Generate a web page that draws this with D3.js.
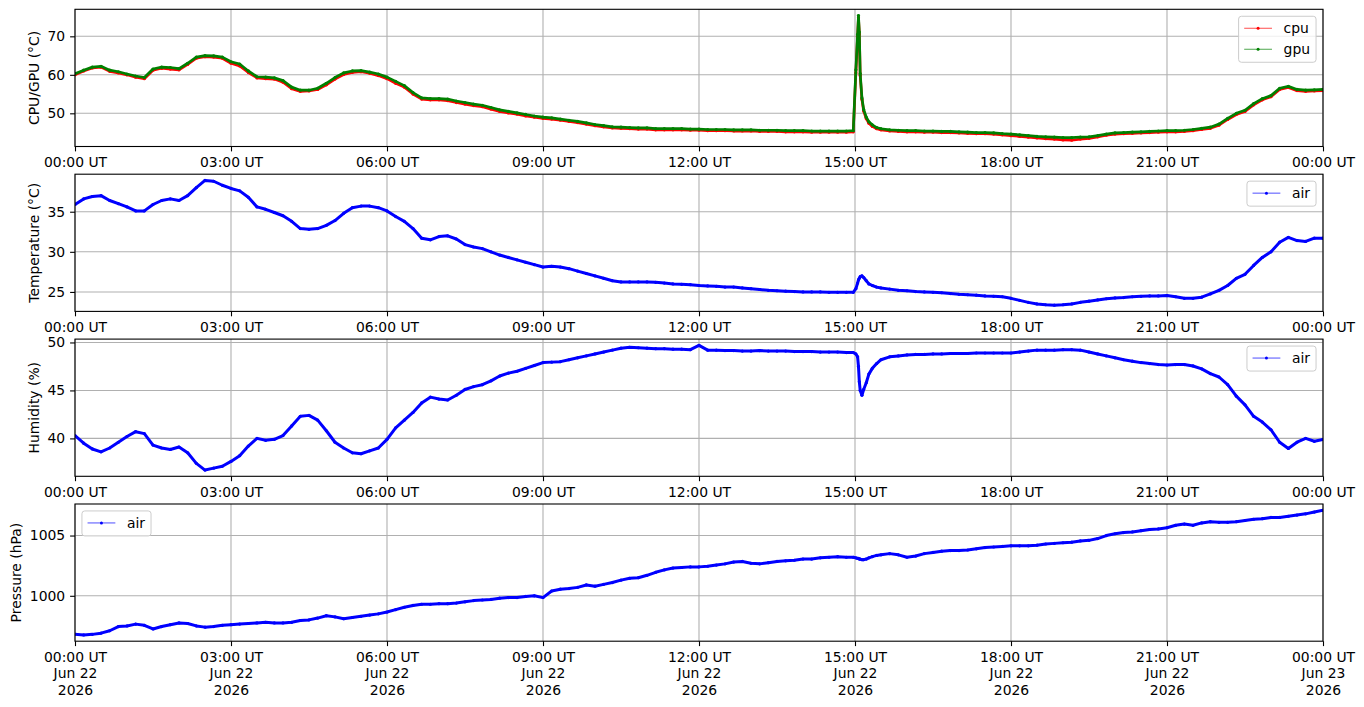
<!DOCTYPE html>
<html>
<head>
<meta charset="utf-8">
<script src="https://cdn.jsdelivr.net/npm/d3@7"></script>
<style>
  body { margin: 0; background: #fff; }
  svg { display: block; font-family: "DejaVu Sans", sans-serif; }
</style>
</head>
<body>
<svg id="chart" width="1364" height="707"></svg>
<script>
// sample times, minutes after 00:00 UT on 2026-06-22 (denser around the 15:00 event)
var minutes = [
  0, 10, 20, 30, 40, 50, 60, 70, 80, 90,
  100, 110, 120, 130, 140, 150, 160, 170, 180, 190,
  200, 210, 220, 230, 240, 250, 260, 270, 280, 290,
  300, 310, 320, 330, 340, 350, 360, 370, 380, 390,
  400, 410, 420, 430, 440, 450, 460, 470, 480, 490,
  500, 510, 520, 530, 540, 550, 560, 570, 580, 590,
  600, 610, 620, 630, 640, 650, 660, 670, 680, 690,
  700, 710, 720, 730, 740, 750, 760, 770, 780, 790,
  800, 810, 820, 830, 840, 850, 860, 870, 880, 890,
  898, 901, 903, 904, 905, 906, 908, 910, 913, 916, 920, 925,
  930, 940, 950, 960, 970, 980, 990, 1000, 1010, 1020,
  1030, 1040, 1050, 1060, 1070, 1080, 1090, 1100, 1110, 1120,
  1130, 1140, 1150, 1160, 1170, 1180, 1190, 1200, 1210, 1220,
  1230, 1240, 1250, 1260, 1270, 1280, 1290, 1300, 1310, 1320,
  1330, 1340, 1350, 1360, 1370, 1380, 1390, 1400, 1410, 1420,
  1430, 1440
];

var cpu = [
  60.0, 61.0, 61.8, 62.0, 60.9, 60.5, 60.0, 59.4, 59.0, 61.2,
  61.7, 61.5, 61.3, 62.7, 64.3, 64.7, 64.6, 64.3, 63.0, 62.3,
  60.6, 59.2, 59.0, 58.9, 58.1, 56.4, 55.7, 55.8, 56.2, 57.4,
  58.9, 60.1, 60.6, 60.8, 60.4, 59.8, 59.0, 57.8, 56.8, 55.0,
  53.7, 53.5, 53.5, 53.3, 52.8, 52.4, 52.0, 51.7, 51.1, 50.5,
  50.1, 49.8, 49.3, 49.0, 48.7, 48.5, 48.2, 47.9, 47.6, 47.2,
  46.8, 46.5, 46.2, 46.1, 46.0, 45.9, 45.9, 45.7, 45.7, 45.7,
  45.7, 45.6, 45.6, 45.5, 45.5, 45.5, 45.4, 45.4, 45.4, 45.3,
  45.3, 45.3, 45.2, 45.2, 45.2, 45.1, 45.1, 45.1, 45.1, 45.1,
  45.2, 60.5, 70.0, 74.8, 70.6, 59.8, 53.6, 50.6, 48.6, 47.4, 46.6, 46.0,
  45.7, 45.4, 45.3, 45.2, 45.2, 45.1, 45.1, 45.0, 45.0, 44.9,
  44.8, 44.7, 44.7, 44.6, 44.4, 44.2, 44.0, 43.8, 43.6, 43.4,
  43.3, 43.1, 43.0, 43.3, 43.5, 43.9, 44.3, 44.6, 44.7, 44.8,
  44.9, 45.0, 45.1, 45.2, 45.2, 45.3, 45.5, 45.8, 46.1, 46.9,
  48.4, 49.7, 50.5, 52.2, 53.5, 54.3, 56.2, 56.7, 55.9, 55.7,
  55.8, 55.9
];

var gpu = [
  60.3, 61.2, 62.0, 62.2, 61.2, 60.8, 60.2, 59.7, 59.3, 61.5,
  62.0, 61.9, 61.6, 63.0, 64.6, 65.0, 64.9, 64.6, 63.4, 62.8,
  61.0, 59.5, 59.4, 59.2, 58.5, 56.8, 56.0, 56.0, 56.5, 57.8,
  59.3, 60.5, 61.0, 61.1, 60.7, 60.2, 59.4, 58.3, 57.2, 55.4,
  54.0, 53.8, 53.8, 53.7, 53.2, 52.8, 52.4, 52.1, 51.5, 50.9,
  50.5, 50.1, 49.7, 49.3, 49.0, 48.8, 48.5, 48.2, 47.9, 47.5,
  47.1, 46.8, 46.5, 46.4, 46.3, 46.2, 46.2, 46.0, 46.0, 46.0,
  46.0, 45.9, 45.9, 45.8, 45.8, 45.8, 45.7, 45.7, 45.7, 45.6,
  45.6, 45.6, 45.5, 45.5, 45.5, 45.4, 45.4, 45.4, 45.4, 45.4,
  45.5, 61.3, 70.5, 75.4, 71.1, 60.3, 54.0, 51.0, 49.0, 47.8, 47.0, 46.3,
  46.0, 45.7, 45.6, 45.5, 45.5, 45.4, 45.4, 45.3, 45.3, 45.2,
  45.1, 45.0, 45.0, 44.9, 44.7, 44.6, 44.4, 44.2, 44.0, 43.9,
  43.8, 43.7, 43.7, 43.8, 43.9, 44.2, 44.6, 44.9, 45.0, 45.1,
  45.2, 45.3, 45.4, 45.5, 45.5, 45.6, 45.8, 46.1, 46.4, 47.2,
  48.7, 50.0, 50.8, 52.5, 53.8, 54.6, 56.5, 57.0, 56.2, 56.0,
  56.1, 56.2
];

var airTemp = [
  35.9, 36.6, 36.9, 37.0, 36.4, 36.0, 35.6, 35.1, 35.1, 35.9,
  36.4, 36.6, 36.4, 37.0, 38.0, 38.9, 38.8, 38.3, 37.9, 37.6,
  36.8, 35.6, 35.3, 34.9, 34.5, 33.8, 32.9, 32.8, 32.9, 33.3,
  33.9, 34.8, 35.5, 35.7, 35.7, 35.5, 35.1, 34.4, 33.8, 32.9,
  31.7, 31.5, 31.9, 32.0, 31.6, 30.9, 30.6, 30.4, 30.0, 29.6,
  29.3, 29.0, 28.7, 28.4, 28.1, 28.2, 28.1, 27.9, 27.6, 27.3,
  27.0, 26.7, 26.4, 26.25, 26.25, 26.25, 26.25, 26.2, 26.1, 26.0,
  25.95, 25.9, 25.8, 25.75, 25.7, 25.6, 25.6, 25.5, 25.4, 25.3,
  25.2, 25.15, 25.1, 25.05, 25.0, 25.0, 25.0, 24.95, 24.95, 24.95,
  24.95, 25.4, 26.1, 26.5, 26.7, 26.9, 27.0, 26.8, 26.4, 26.0, 25.8, 25.6,
  25.5, 25.35, 25.2, 25.15, 25.05, 25.0, 24.95, 24.9, 24.8, 24.7,
  24.65, 24.6, 24.5, 24.45, 24.4, 24.2, 23.95, 23.7, 23.5, 23.4,
  23.35, 23.4, 23.5, 23.7, 23.85, 24.0, 24.15, 24.25, 24.3, 24.4,
  24.45, 24.5, 24.5, 24.55, 24.4, 24.2, 24.2, 24.35, 24.75, 25.2,
  25.8, 26.7, 27.2, 28.3, 29.3, 30.0, 31.2, 31.8, 31.4, 31.3,
  31.7, 31.7
];

var airHumidity = [
  40.3, 39.5, 38.9, 38.6, 39.0, 39.6, 40.2, 40.7, 40.5, 39.3,
  39.0, 38.85, 39.1, 38.5, 37.4, 36.7, 36.9, 37.1, 37.6, 38.2,
  39.2, 40.0, 39.8, 39.9, 40.3, 41.3, 42.3, 42.4, 41.9, 40.8,
  39.6, 39.0, 38.5, 38.4, 38.7, 39.0, 39.9, 41.1, 41.9, 42.7,
  43.7, 44.3, 44.1, 44.0, 44.5, 45.1, 45.4, 45.6, 46.0, 46.5,
  46.8, 47.0, 47.3, 47.6, 47.9, 47.95, 48.0, 48.2, 48.4, 48.6,
  48.8, 49.0, 49.2, 49.4, 49.5, 49.45, 49.4, 49.35, 49.35, 49.3,
  49.3, 49.25, 49.7, 49.2, 49.2, 49.15, 49.15, 49.1, 49.1, 49.15,
  49.1, 49.1, 49.1, 49.05, 49.05, 49.05, 49.0, 49.0, 49.0, 48.95,
  48.95, 48.8, 48.5, 47.5, 45.9, 45.0, 44.5, 45.1, 45.8, 46.7, 47.3, 47.8,
  48.2, 48.5, 48.6, 48.7, 48.75, 48.75, 48.8, 48.8, 48.85, 48.85,
  48.85, 48.9, 48.9, 48.9, 48.9, 48.9, 49.0, 49.1, 49.2, 49.2,
  49.2, 49.25, 49.25, 49.2, 49.0, 48.8, 48.6, 48.4, 48.2, 48.05,
  47.9, 47.8, 47.7, 47.65, 47.7, 47.7, 47.55, 47.25, 46.75, 46.4,
  45.6, 44.4, 43.5, 42.3, 41.7, 40.9, 39.6, 38.95, 39.6, 40.0,
  39.7, 39.9
];

var airPressure = [
  996.8, 996.75, 996.8, 996.9, 997.1, 997.45, 997.5, 997.65, 997.55, 997.25,
  997.45, 997.6, 997.75, 997.7, 997.5, 997.4, 997.45, 997.55, 997.6, 997.65,
  997.7, 997.75, 997.8, 997.75, 997.75, 997.8, 997.95, 998.0, 998.15, 998.35,
  998.25, 998.1, 998.2, 998.3, 998.4, 998.5, 998.65, 998.85, 999.05, 999.2,
  999.3, 999.3, 999.35, 999.35, 999.4, 999.5, 999.6, 999.65, 999.7, 999.8,
  999.85, 999.85, 999.95, 1000.0, 999.85, 1000.4, 1000.55, 1000.6, 1000.7, 1000.9,
  1000.8, 1000.95, 1001.1, 1001.3, 1001.45, 1001.5, 1001.7, 1001.95, 1002.15, 1002.3,
  1002.35, 1002.4, 1002.4, 1002.45, 1002.55, 1002.65, 1002.8, 1002.85, 1002.7, 1002.65,
  1002.75, 1002.85, 1002.9, 1002.95, 1003.05, 1003.05, 1003.15, 1003.2, 1003.25, 1003.2,
  1003.2, 1003.15, 1003.1, 1003.1, 1003.05, 1003.05, 1003.0, 1003.0, 1003.05, 1003.15, 1003.25, 1003.35,
  1003.4, 1003.5, 1003.4, 1003.2, 1003.3, 1003.5, 1003.6, 1003.7, 1003.75, 1003.75,
  1003.8, 1003.9, 1004.0, 1004.05, 1004.1, 1004.15, 1004.15, 1004.15, 1004.2, 1004.3,
  1004.35, 1004.4, 1004.45, 1004.55, 1004.6, 1004.75, 1005.0, 1005.15, 1005.25, 1005.3,
  1005.4, 1005.5, 1005.55, 1005.65, 1005.85, 1005.95, 1005.85, 1006.05, 1006.15, 1006.1,
  1006.1, 1006.15, 1006.25, 1006.35, 1006.4, 1006.5, 1006.5, 1006.6, 1006.7, 1006.8,
  1006.95, 1007.1
];

var cpuTicks = [50, 60, 70];
var tempTicks = [25, 30, 35];
var humidityTicks = [40, 45, 50];
var pressureTicks = [1000, 1005];

var X0 = 75, X1 = 1323;
var panelTop = [9.3, 174.2, 339.1, 504.0];
var panelH = 137.2;
var FONT = 13.9;
var GRID = "#b0b0b0";

var svg = d3.select("#chart");

var day0 = Date.UTC(2026, 5, 22);
function toDate(m) { return new Date(day0 + m * 60000); }
var dates = minutes.map(toDate);

var x = d3.scaleUtc().domain([toDate(0), toDate(1440)]).range([X0, X1]);
var xTicks = d3.utcHour.every(3).range(toDate(0), toDate(1441));
var fmtTime = d3.utcFormat("%H:%M UT");
var fmtDay = d3.utcFormat("%b %d");
var fmtYear = d3.utcFormat("%Y");

var panels = [
  {ylabel: "CPU/GPU (\u00B0C)", ticks: cpuTicks, legend: "right", width: 2.7,
   series: [{name: "cpu", values: cpu, color: "#ff0000"}, {name: "gpu", values: gpu, color: "#008000"}]},
  {ylabel: "Temperature (\u00B0C)", ticks: tempTicks, legend: "right", width: 3,
   series: [{name: "air", values: airTemp, color: "#0000ff"}]},
  {ylabel: "Humidity (%)", ticks: humidityTicks, legend: "right", width: 3,
   series: [{name: "air", values: airHumidity, color: "#0000ff"}]},
  {ylabel: "Pressure (hPa)", ticks: pressureTicks, legend: "left", dates: true, width: 3,
   series: [{name: "air", values: airPressure, color: "#0000ff"}]}
];

panels.forEach(function (p, i) {
  var top = panelTop[i], bottom = top + panelH;
  var all = [];
  p.series.forEach(function (s) { all = all.concat(s.values); });
  var ext = d3.extent(all);
  var pad = (ext[1] - ext[0]) * 0.05;
  var y = d3.scaleLinear().domain([ext[0] - pad, ext[1] + pad]).range([bottom, top]);

  var g = svg.append("g");

  //grid
  g.append("g").selectAll("line").data(xTicks).join("line")
    .attr("x1", function (d) { return x(d); })
    .attr("x2", function (d) { return x(d); })
    .attr("y1", top).attr("y2", bottom)
    .attr("stroke", GRID).attr("stroke-width", 1.1);
  g.append("g").selectAll("line").data(p.ticks).join("line")
    .attr("x1", X0).attr("x2", X1)
    .attr("y1", function (d) { return y(d); })
    .attr("y2", function (d) { return y(d); })
    .attr("stroke", GRID).attr("stroke-width", 1.1);

  //data
  var clipId = "clip" + i;
  svg.append("clipPath").attr("id", clipId).append("rect")
    .attr("x", X0).attr("y", top).attr("width", X1 - X0).attr("height", panelH);
  var plot = g.append("g").attr("clip-path", "url(#" + clipId + ")");
  var line = d3.line()
    .x(function (d, j) { return x(dates[j]); })
    .y(function (d) { return y(d); });
  p.series.forEach(function (s) {
    plot.append("path").datum(s.values)
      .attr("d", line)
      .attr("fill", "none")
      .attr("stroke", s.color)
      .attr("stroke-width", p.width)
      .attr("stroke-linejoin", "round");
    plot.append("g").selectAll("circle").data(s.values).join("circle")
      .attr("cx", function (d, j) { return x(dates[j]); })
      .attr("cy", function (d) { return y(d); })
      .attr("r", 1.6)
      .attr("fill", s.color);
  });

  //spines
  g.append("rect")
    .attr("x", X0).attr("y", top).attr("width", X1 - X0).attr("height", panelH)
    .attr("fill", "none").attr("stroke", "#000").attr("stroke-width", 1.1);

  //x axis
  var xAxis = d3.axisBottom(x).tickValues(xTicks)
    .tickSize(4.9).tickPadding(6).tickSizeOuter(0)
    .tickFormat(fmtTime);
  var xg = g.append("g").attr("transform", "translate(0," + bottom + ")").call(xAxis);
  xg.attr("font-size", FONT).attr("font-family", "DejaVu Sans");
  xg.select(".domain").remove();
  xg.selectAll(".tick line").attr("stroke", "#000").attr("stroke-width", 1.1);
  xg.selectAll(".tick text").attr("fill", "#000");
  if (p.dates) {
    xg.selectAll(".tick text").each(function (d) {
      var t = d3.select(this);
      var rows = [fmtTime(d), fmtDay(d), fmtYear(d)];
      t.text(null).attr("dy", null);
      rows.forEach(function (r, k) {
        t.append("tspan").attr("x", 0)
          .attr("dy", k === 0 ? "0.71em" : "1.18em")
          .text(r);
      });
    });
  }

  //y axis
  var yAxis = d3.axisLeft(y).tickValues(p.ticks)
    .tickSize(4.9).tickPadding(4.9).tickSizeOuter(0)
    .tickFormat(d3.format("d"));
  var yg = g.append("g").attr("transform", "translate(" + X0 + ",0)").call(yAxis);
  yg.attr("font-size", FONT).attr("font-family", "DejaVu Sans");
  yg.select(".domain").remove();
  yg.selectAll(".tick line").attr("stroke", "#000").attr("stroke-width", 1.1);
  yg.selectAll(".tick text").attr("fill", "#000");
  var bb = yg.node().getBBox();
  var labelX = X0 + bb.x - 5.6 - 3.3;
  g.append("text")
    .attr("transform", "translate(" + labelX + "," + (top + panelH / 2) + ") rotate(-90)")
    .attr("text-anchor", "middle")
    .attr("font-size", FONT)
    .attr("fill", "#000")
    .text(p.ylabel);

  //legend
  var lg = g.append("g");
  var box = lg.append("rect");
  var maxW = 0;
  p.series.forEach(function (s, k) {
    var cy = 12 + 21 * k;
    lg.append("line")
      .attr("x1", 5.6).attr("x2", 33.4).attr("y1", cy).attr("y2", cy)
      .attr("stroke", s.color).attr("stroke-width", 0.7);
    lg.append("circle").attr("cx", 19.5).attr("cy", cy).attr("r", 1.5).attr("fill", s.color);
    var t = lg.append("text")
      .attr("x", 45).attr("y", cy).attr("dy", "0.35em")
      .attr("font-size", FONT).attr("fill", "#000")
      .text(s.name);
    maxW = Math.max(maxW, t.node().getComputedTextLength());
  });
  var boxW = 45 + maxW + 6;
  var boxH = 21 * p.series.length + 4;
  box.attr("width", boxW).attr("height", boxH).attr("rx", 2.8)
    .attr("fill", "#fff").attr("fill-opacity", 0.8)
    .attr("stroke", "#cccccc").attr("stroke-width", 1);
  var lx = p.legend === "right" ? X1 - 6.95 - boxW : X0 + 6.95;
  lg.attr("transform", "translate(" + lx + "," + (top + 6.95) + ")");
});
</script>
</body>
</html>
